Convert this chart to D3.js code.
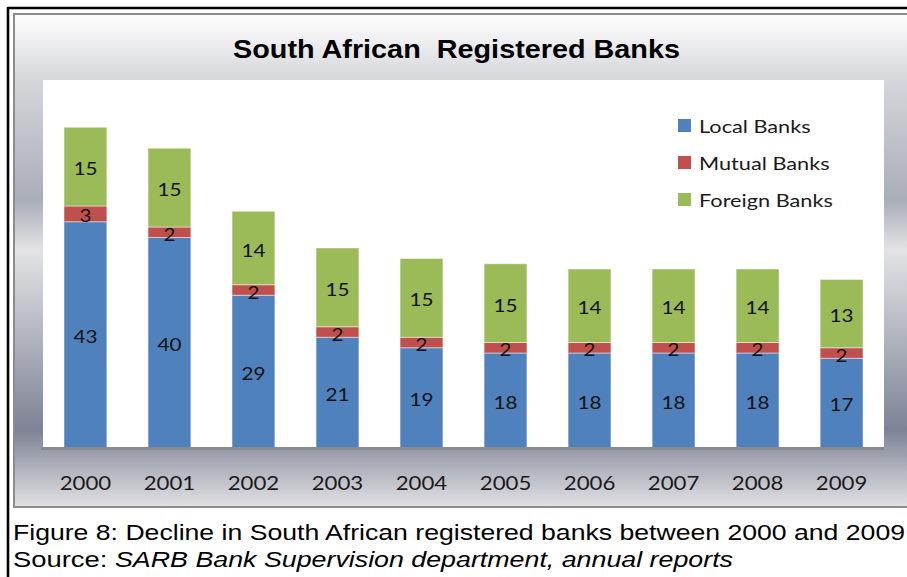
<!DOCTYPE html>
<html>
<head>
<meta charset="utf-8">
<script src="https://cdn.jsdelivr.net/npm/d3@7"></script>
<style>
  html, body { margin: 0; padding: 0; background: #ffffff; }
  svg { display: block; }
</style>
</head>
<body>
<svg id="chart" width="907" height="577"></svg>
<script>
// Registered banks in South Africa by type, 2000-2009
const years = ["2000", "2001", "2002", "2003", "2004", "2005", "2006", "2007", "2008", "2009"];
const localBanks   = [43, 40, 29, 21, 19, 18, 18, 18, 18, 17];
const mutualBanks  = [3, 2, 2, 2, 2, 2, 2, 2, 2, 2];
const foreignBanks = [15, 15, 14, 15, 15, 15, 14, 14, 14, 13];
const seriesNames  = ["Local Banks", "Mutual Banks", "Foreign Banks"];
const seriesKeys   = ["local", "mutual", "foreign"];
const colors       = ["#4f81bd", "#c0504d", "#9bbb59"];
const yDomainMax   = 70;

const titleText = "South African  Registered Banks";
const captionLine1 = "Figure 8: Decline in South African registered banks between 2000 and 2009";
const captionLead = "Source: ";
const captionSource = "SARB Bank Supervision department, annual reports";

const rows = years.map((y, i) => ({
  year: y, local: localBanks[i], mutual: mutualBanks[i], foreign: foreignBanks[i]
}));

const svg = d3.select("#chart");
const labelFont = "Lato, 'Open Sans', sans-serif";

// stretch a text node to a given advance width
function fitTo(sel, width) {
  sel.attr("textLength", width).attr("lengthAdjust", "spacingAndGlyphs");
}
// widen a text node by a factor of its natural width
function widen(sel, k) {
  sel.each(function () {
    const w = this.getComputedTextLength();
    d3.select(this).attr("textLength", w * k).attr("lengthAdjust", "spacingAndGlyphs");
  });
}

// chrome-style background gradient of the chart box
const defs = svg.append("defs");
const grad = defs.append("linearGradient")
  .attr("id", "boxFill")
  .attr("gradientUnits", "userSpaceOnUse")
  .attr("x1", 0).attr("y1", 14).attr("x2", 0).attr("y2", 507);
[
  [14, "#ffffff"], [80, "#d5d6da"], [200, "#a9adb8"], [250, "#e3e3e5"],
  [300, "#c6c8ce"], [430, "#7d8396"], [507, "#e2e2e4"]
].forEach(([y, c]) => grad.append("stop")
  .attr("offset", ((y - 14) / (507 - 14)).toFixed(4)).attr("stop-color", c));

// outer frame
svg.append("line").attr("x1", 8).attr("x2", 8).attr("y1", 7).attr("y2", 577)
  .attr("stroke", "#000").attr("stroke-width", 2.6);
svg.append("line").attr("x1", 7).attr("x2", 907).attr("y1", 8).attr("y2", 8)
  .attr("stroke", "#000").attr("stroke-width", 2.6);

// chart box
svg.append("rect")
  .attr("x", 14).attr("y", 14).attr("width", 910).attr("height", 493)
  .attr("fill", "url(#boxFill)")
  .attr("stroke", "#8c8c8c").attr("stroke-width", 2);

// plot area
const plot = { left: 43, right: 884, top: 80, bottom: 447.5 };
svg.append("rect")
  .attr("x", plot.left).attr("y", plot.top)
  .attr("width", plot.right - plot.left).attr("height", plot.bottom - plot.top)
  .attr("fill", "#ffffff");

const x = d3.scaleBand()
  .domain(years)
  .range([plot.left, plot.right])
  .paddingInner(0.49)
  .paddingOuter(0.25);

const y = d3.scaleLinear()
  .domain([0, yDomainMax])
  .range([plot.bottom, plot.top]);

const stacked = d3.stack().keys(seriesKeys)(rows);

const layers = svg.append("g").selectAll("g")
  .data(stacked)
  .join("g")
  .attr("fill", (d, i) => colors[i]);

layers.selectAll("rect")
  .data(d => d)
  .join("rect")
  .attr("x", d => x(d.data.year))
  .attr("y", d => y(d[1]))
  .attr("width", x.bandwidth())
  .attr("height", d => y(d[0]) - y(d[1]))
  .attr("stroke", "rgba(255,255,255,0.45)")
  .attr("stroke-width", 1);

// value labels, centred in each segment
const labels = svg.append("g")
  .attr("font-family", labelFont)
  .attr("font-size", 17.5)
  .attr("fill", "#111")
  .attr("text-anchor", "middle");

stacked.forEach(layer => {
  labels.selectAll(null)
    .data(layer)
    .join("text")
    .attr("x", d => x(d.data.year) + x.bandwidth() / 2)
    .attr("y", d => (y(d[0]) + y(d[1])) / 2 + 8.5)
    .text(d => d[1] - d[0])
    .call(widen, 1.18);
});

// x axis line
svg.append("line")
  .attr("x1", 41).attr("x2", plot.right)
  .attr("y1", plot.bottom + 1).attr("y2", plot.bottom + 1)
  .attr("stroke", "#8a8a8a").attr("stroke-width", 3);

// category labels
const xAxis = d3.axisBottom(x).tickSize(0).tickPadding(0);
const axisG = svg.append("g")
  .attr("transform", `translate(0,${plot.bottom})`)
  .call(xAxis);
axisG.select(".domain").remove();
axisG.selectAll(".tick text")
  .attr("font-family", labelFont)
  .attr("font-size", 18.5)
  .attr("fill", "#1a1a1a")
  .attr("dy", 0)
  .attr("y", 42.5)
  .call(widen, 1.2);

// title
svg.append("text")
  .attr("x", 233).attr("y", 57.5)
  .attr("font-family", "'Liberation Sans', Arial, sans-serif")
  .attr("font-weight", "bold")
  .attr("font-size", 25.5)
  .attr("fill", "#000")
  .attr("xml:space", "preserve")
  .style("white-space", "pre")
  .text(titleText)
  .call(fitTo, 447);

// legend
const legend = svg.append("g");
seriesNames.forEach((name, i) => {
  const g = legend.append("g").attr("transform", `translate(678,${119 + i * 37})`);
  g.append("rect").attr("width", 13).attr("height", 13).attr("fill", colors[i]);
  g.append("text")
    .attr("x", 21).attr("y", 13.5)
    .attr("font-family", labelFont)
    .attr("font-size", 17.5)
    .attr("fill", "#1a1a1a")
    .text(name)
    .call(widen, 1.24);
});

// caption below the chart
const capFont = "'Liberation Sans', Arial, sans-serif";
svg.append("text")
  .attr("x", 13).attr("y", 540)
  .attr("font-family", capFont).attr("font-size", 22)
  .attr("fill", "#000")
  .text(captionLine1)
  .call(fitTo, 892);
svg.append("text")
  .attr("x", 13).attr("y", 567)
  .attr("font-family", capFont).attr("font-size", 22)
  .attr("fill", "#000")
  .attr("xml:space", "preserve")
  .style("white-space", "pre")
  .text(captionLead)
  .call(fitTo, 102);
svg.append("text")
  .attr("x", 115).attr("y", 567)
  .attr("font-family", capFont).attr("font-size", 22)
  .attr("font-style", "italic")
  .attr("fill", "#000")
  .text(captionSource)
  .call(fitTo, 618);
</script>
</body>
</html>
